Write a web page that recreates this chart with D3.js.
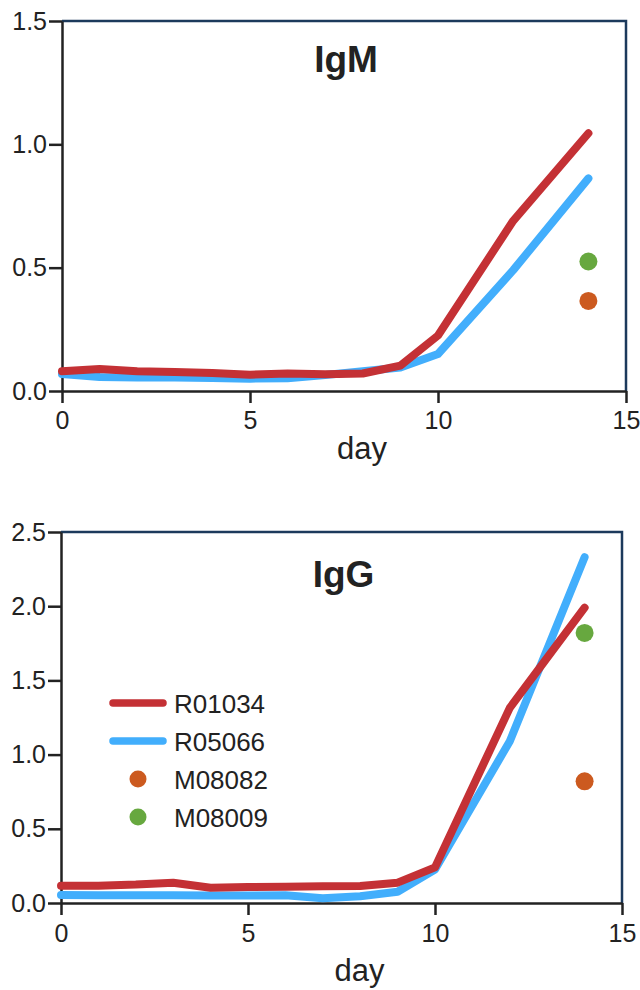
<!DOCTYPE html>
<html>
<head>
<meta charset="utf-8">
<script src="https://cdn.jsdelivr.net/npm/d3@7"></script>
<style>
  body { margin: 0; background: #fff; }
  svg { font-family: "Liberation Sans", Arial, sans-serif; }
</style>
</head>
<body>
<div id="chart"></div>
<script>
const days = [0, 1, 2, 3, 4, 5, 6, 7, 8, 9, 10, 12, 14];

const igmR01034 = [0.080, 0.089, 0.080, 0.077, 0.073, 0.066, 0.071, 0.068, 0.071, 0.103, 0.225, 0.69, 1.045];
const igmR05066 = [0.069, 0.057, 0.055, 0.055, 0.053, 0.050, 0.052, 0.065, 0.080, 0.095, 0.150, 0.49, 0.862];
const igmM08082 = [{ day: 14, value: 0.365 }];
const igmM08009 = [{ day: 14, value: 0.525 }];

const iggR01034 = [0.117, 0.117, 0.124, 0.137, 0.103, 0.108, 0.110, 0.113, 0.115, 0.137, 0.240, 1.315, 1.99];
const iggR05066 = [0.054, 0.052, 0.052, 0.052, 0.050, 0.050, 0.052, 0.032, 0.045, 0.076, 0.225, 1.09, 2.33];
const iggM08082 = [{ day: 14, value: 0.82 }];
const iggM08009 = [{ day: 14, value: 1.82 }];

const xTicks = [0, 5, 10, 15];
const igmYTicks = [0, 0.5, 1.0, 1.5];
const iggYTicks = [0, 0.5, 1.0, 1.5, 2.0, 2.5];

const colors = {
    R01034: '#c43135',
    R05066: '#42aefc',
    M08082: '#cc5a1f',
    M08009: '#67a83f'
};
const borderColor = '#1c3a5c';
const inkColor = '#222';

const svg = d3.select('#chart')
    .append('svg')
    .attr('width', 640)
    .attr('height', 990);

function drawPanel(opts) {
    const g = svg.append('g')
        .attr('transform', `translate(${opts.left},${opts.top})`);

    const xScale = d3.scaleLinear().domain([0, 15]).range([0, opts.width]);
    const yScale = d3.scaleLinear().domain([0, opts.yMax]).range([opts.height, 0]);

    // top and right frame
    g.append('path')
        .attr('d', `M0,0H${opts.width}V${opts.height}`)
        .attr('fill', 'none')
        .attr('stroke', borderColor)
        .attr('stroke-width', 2.5);

    const xAxis = d3.axisBottom(xScale)
        .tickValues(xTicks)
        .tickFormat(d3.format('d'))
        .tickSize(12)
        .tickSizeOuter(0)
        .tickPadding(opts.xPad);

    const yAxis = d3.axisLeft(yScale)
        .tickValues(opts.yTicks)
        .tickFormat(d3.format('.1f'))
        .tickSize(13)
        .tickSizeOuter(0)
        .tickPadding(2);

    const gx = g.append('g')
        .attr('transform', `translate(0,${opts.height})`)
        .call(xAxis);
    const gy = g.append('g').call(yAxis);

    [gx, gy].forEach(a => {
        a.select('.domain').attr('stroke', inkColor).attr('stroke-width', 2.5);
        a.selectAll('.tick line').attr('stroke', inkColor).attr('stroke-width', 2.5);
        a.selectAll('.tick text')
            .attr('fill', inkColor)
            .style('font-size', '25px')
            .style('font-family', '"Liberation Sans", Arial, sans-serif');
    });

    g.append('text')
        .attr('x', opts.width / 2 + 18)
        .attr('y', opts.height + opts.labelGap)
        .attr('text-anchor', 'middle')
        .attr('fill', inkColor)
        .style('font-size', '31px')
        .text('day');

    g.append('text')
        .attr('x', opts.width / 2 + 2)
        .attr('y', opts.titleY)
        .attr('text-anchor', 'middle')
        .attr('fill', inkColor)
        .style('font-size', '37px')
        .style('font-weight', 'bold')
        .text(opts.title);

    const line = d3.line()
        .x((d, i) => xScale(days[i]))
        .y(d => yScale(d));

    [['R05066', opts.r05066], ['R01034', opts.r01034]].forEach(([name, vals]) => {
        g.append('path')
            .datum(vals)
            .attr('d', line)
            .attr('fill', 'none')
            .attr('stroke', colors[name])
            .attr('stroke-width', 8)
            .attr('stroke-linecap', 'round')
            .attr('stroke-linejoin', 'round');
    });

    [['M08082', opts.m08082], ['M08009', opts.m08009]].forEach(([name, pts]) => {
        g.selectAll(null)
            .data(pts)
            .enter()
            .append('circle')
            .attr('cx', d => xScale(d.day))
            .attr('cy', d => yScale(d.value))
            .attr('r', 9)
            .attr('fill', colors[name]);
    });

    return g;
}

drawPanel({
    left: 62, top: 21, width: 564, height: 370,
    yMax: 1.5, yTicks: igmYTicks, title: 'IgM',
    titleY: 51, xPad: 8, labelGap: 68,
    r01034: igmR01034, r05066: igmR05066, m08082: igmM08082, m08009: igmM08009
});

const igg = drawPanel({
    left: 61, top: 532, width: 561, height: 371,
    yMax: 2.5, yTicks: iggYTicks, title: 'IgG',
    titleY: 55, xPad: 9, labelGap: 78,
    r01034: iggR01034, r05066: iggR05066, m08082: iggM08082, m08009: iggM08009
});

// legend
const legendItems = [
    { name: 'R01034', type: 'line' },
    { name: 'R05066', type: 'line' },
    { name: 'M08082', type: 'dot' },
    { name: 'M08009', type: 'dot' }
];

const legend = igg.append('g').attr('transform', 'translate(52,171)');
legendItems.forEach((item, i) => {
    const row = legend.append('g').attr('transform', `translate(0,${i * 38})`);
    if (item.type === 'line') {
        row.append('line')
            .attr('x1', 0).attr('x2', 50)
            .attr('y1', 0).attr('y2', 0)
            .attr('stroke', colors[item.name])
            .attr('stroke-width', 7.5)
            .attr('stroke-linecap', 'round');
    } else {
        row.append('circle')
            .attr('cx', 25).attr('cy', 0)
            .attr('r', 8.5)
            .attr('fill', colors[item.name]);
    }
    row.append('text')
        .attr('x', 61)
        .attr('y', 10)
        .attr('fill', inkColor)
        .style('font-size', '26px')
        .text(item.name);
});
</script>
</body>
</html>
